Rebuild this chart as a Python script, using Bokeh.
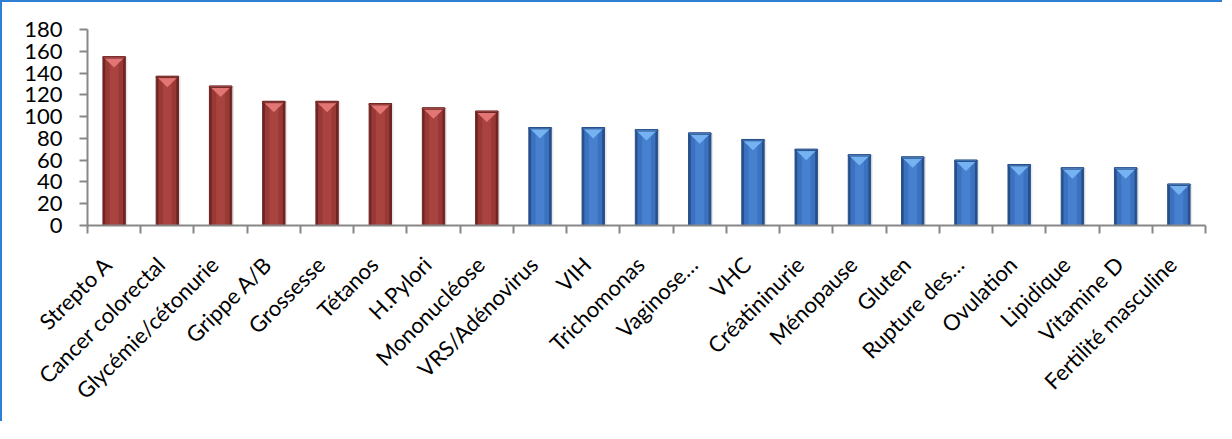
import math
from bokeh.plotting import figure
from bokeh.models import Range1d, FixedTicker, ColumnDataSource
from bokeh.embed import file_html
from bokeh.resources import INLINE

categories = ["Strepto A", "Cancer colorectal", "Glycémie/cétonurie", "Grippe A/B", "Grossesse",
              "Tétanos", "H.Pylori", "Mononucléose", "VRS/Adénovirus", "VIH", "Trichomonas",
              "Vaginose…", "VHC", "Créatininurie", "Ménopause", "Gluten", "Rupture des…",
              "Ovulation", "Lipidique", "Vitamine D", "Fertilité masculine"]
values = [155, 137, 128, 114, 114, 112, 108, 105, 90, 90, 88, 85, 79, 70, 65, 63, 60, 56, 53, 53, 38]
groups = ["red"] * 8 + ["blue"] * 13
y_ticks = [0, 20, 40, 60, 80, 100, 120, 140, 160, 180]

main_col = {"red": "#9a3836", "blue": "#3a72c0"}
edge_col = {"red": "#6e2523", "blue": "#274f8a"}
mid_col = {"red": "#a84340", "blue": "#4680cf"}
tri_col = {"red": "#e27674", "blue": "#74b2f2"}

n = len(categories)
xs = [i + 0.5 for i in range(n)]
label_pos = [i + 0.38 for i in range(n)]
bw = 0.42
src = ColumnDataSource(dict(
    x=xs, top=values,
    cap=[v - 1.2 for v in values],
    fill=[main_col[g] for g in groups],
    edge=[edge_col[g] for g in groups],
    mid=[mid_col[g] for g in groups],
    tri=[tri_col[g] for g in groups],
))

p = figure(width=1222, height=421, output_backend="svg", toolbar_location=None,
           x_range=Range1d(0, n), y_range=Range1d(0, 180),
           min_border_left=85, min_border_top=27, min_border_right=19, min_border_bottom=198)
p.styles = {"border-left": "2px solid #2f7fd4", "border-top": "2px solid #2f7fd4"}
p.outline_line_color = None
p.background_fill_color = "white"
p.border_fill_color = "white"
p.xgrid.visible = False
p.ygrid.visible = False

# soft shadow
p.vbar(x=[x + 0.03 for x in xs], top=values, width=bw + 0.02, bottom=0,
       fill_color="#d9d9d9", fill_alpha=0.6, line_color=None)
p.vbar(x="x", top="top", width=bw, bottom=0, fill_color="edge", line_color="edge", source=src)
p.vbar(x="x", top="top", width=bw * 0.8, bottom=0, fill_color="fill", line_color=None, source=src)
p.vbar(x="x", top="top", width=bw * 0.4, bottom=0, fill_color="mid", line_color=None, source=src)

# bevel triangles at top of bars
d = 10.0
tx = [[x - bw / 2, x + bw / 2, x] for x in xs]
ty = [[v, v, v - d] for v in values]
p.patches(tx, ty, fill_color=[tri_col[g] for g in groups], line_color=None)
p.vbar(x="x", top="top", bottom="cap", width=bw, fill_color="tri",
       line_color="edge", line_width=1, source=src)

# y axis
ya = p.yaxis[0]
ya.ticker = FixedTicker(ticks=y_ticks)
ya.axis_line_color = "#878787"
ya.axis_line_width = 2
ya.major_tick_line_color = "#878787"
ya.major_tick_line_width = 2
ya.major_tick_out = 8
ya.major_tick_in = 0
ya.minor_tick_line_color = None
ya.major_label_standoff = 17
ya.major_label_text_font = "Lato"
ya.major_label_text_font_size = "22px"
ya.major_label_text_color = "black"

# x axis
xa = p.xaxis[0]
xa.ticker = FixedTicker(ticks=label_pos, minor_ticks=list(range(n + 1)))
xa.major_label_overrides = {x: c for x, c in zip(label_pos, categories)}
xa.major_label_orientation = math.pi / 4
xa.axis_line_color = "#878787"
xa.axis_line_width = 2
xa.major_tick_line_color = None
xa.major_tick_out = 8
xa.major_tick_in = 0
xa.minor_tick_line_color = "#878787"
xa.minor_tick_line_width = 2
xa.minor_tick_out = 8
xa.minor_tick_in = 0
xa.major_label_standoff = 27
xa.major_label_text_font = "Lato"
xa.major_label_text_font_size = "22px"
xa.major_label_text_color = "black"

open("out.html", "w").write(file_html(p, INLINE))
